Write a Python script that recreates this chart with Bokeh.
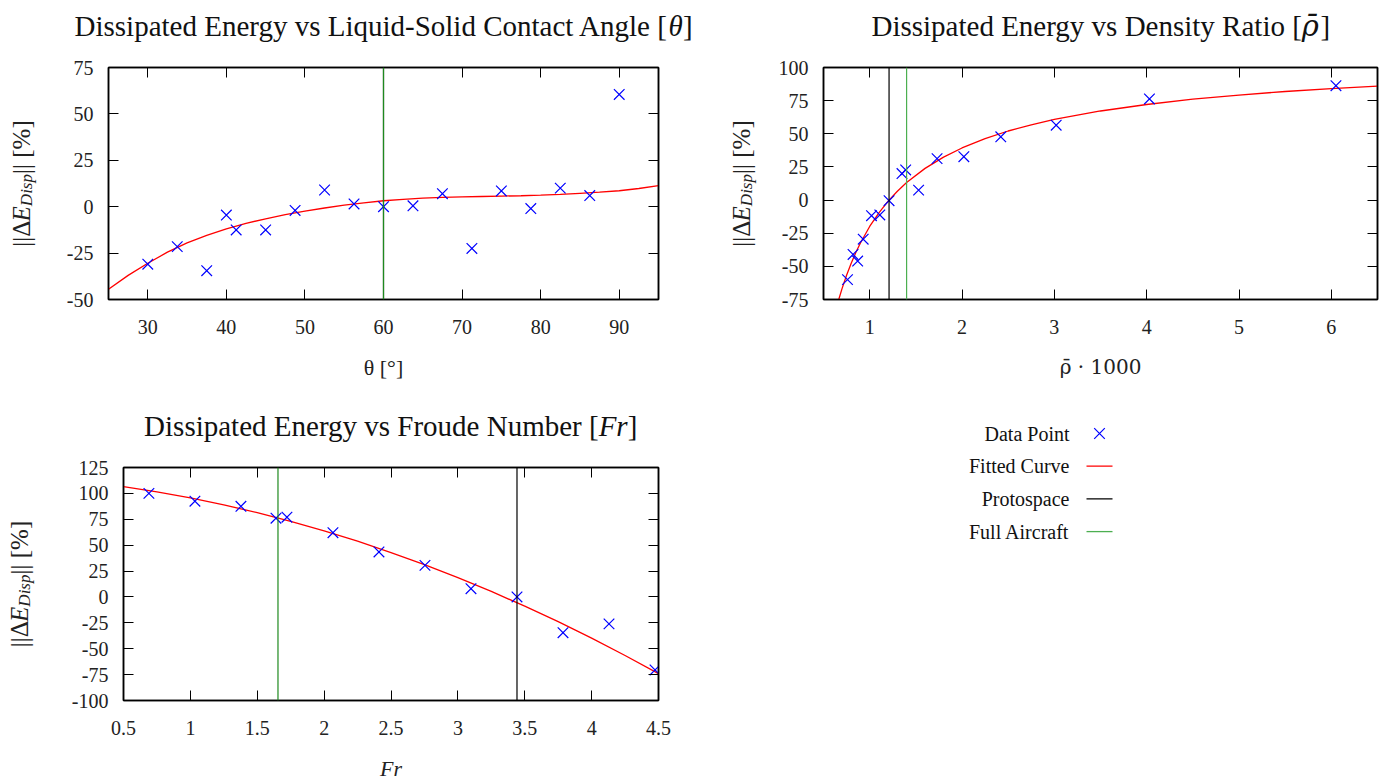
import numpy as np
from bokeh.plotting import figure
from bokeh.models import Range1d, FixedTicker, LinearAxis, Span
from bokeh.layouts import row, column
from bokeh.embed import file_html
from bokeh.resources import INLINE
from bokeh.core.properties import value

SERIF = "Liberation Serif"
GREEK = "DejaVu Serif"

# ---- Contact angle study ----
theta_deg = [30, 33.75, 37.5, 40, 41.25, 45, 48.75, 52.5, 56.25, 60, 63.75,
             67.5, 71.25, 75, 78.75, 82.5, 86.25, 90]
theta_dE = [-31, -21.5, -34.5, -4.5, -12.5, -12.5, -2, 9, 1.5, 0, 0.5,
            7, -22.5, 8.5, -1, 10, 6, 60.5]
theta_fit_x = [25, 27.5, 30, 32.5, 35, 37.5, 40, 42.5, 45, 47.5, 50, 52.5, 55,
               57.5, 60, 62.5, 65, 67.5, 70, 72.5, 75, 77.5, 80, 82.5, 85,
               87.5, 90, 92.5, 95]
theta_fit_y = [-44.5, -37, -30.5, -24.5, -19.5, -15.5, -12, -9, -6.5, -4.3,
               -2.4, -0.7, 0.8, 2.1, 3.2, 4, 4.6, 5.0, 5.3, 5.5, 5.7, 5.9, 6.2,
               6.6, 7.2, 7.8, 8.6, 9.8, 11.3]
theta_protospace = 60
theta_full_aircraft = 60
theta_xticks = [30, 40, 50, 60, 70, 80, 90]
theta_xtick_labels = ["30", "40", "50", "60", "70", "80", "90"]
theta_yticks = [-50, -25, 0, 25, 50, 75]
theta_ytick_labels = ["-50", "-25", "0", "25", "50", "75"]

# ---- Density ratio study ----
rho_k = [0.76, 0.82, 0.87, 0.93, 1.02, 1.11, 1.21, 1.35, 1.39, 1.53, 1.73,
         2.02, 2.42, 3.02, 4.03, 6.05]
rho_dE = [-60, -41, -46, -29.5, -11.75, -11.25, -0.5, 20, 22.75, 7.5, 31.25,
          32.75, 47.75, 56.5, 76.25, 86.25]
rho_fit_x = [0.665, 0.7, 0.75, 0.8, 0.85, 0.9, 1.0, 1.1, 1.2, 1.3, 1.4, 1.6,
             1.8, 2.0, 2.25, 2.5, 2.75, 3.0, 3.5, 4.0, 4.5, 5.0, 5.5, 6.0, 6.5]
rho_fit_y = [-75, -67, -56.7, -47.7, -39.6, -32.4, -19.9, -9.6, -0.8, 6.7,
             13.2, 23.9, 32.4, 39.3, 46.3, 52.1, 56.8, 60.8, 67.2, 72.1, 76.1,
             79.2, 81.9, 84.1, 86.0]
rho_protospace = 1.21
rho_full_aircraft = 1.40
rho_xticks = [1, 2, 3, 4, 5, 6]
rho_xtick_labels = ["1", "2", "3", "4", "5", "6"]
rho_yticks = [-75, -50, -25, 0, 25, 50, 75, 100]
rho_ytick_labels = ["-75", "-50", "-25", "0", "25", "50", "75", "100"]

# ---- Froude number study ----
fr = [0.69, 1.034, 1.378, 1.64, 1.722, 2.066, 2.41, 2.754, 3.098, 3.442,
      3.786, 4.13, 4.474]
fr_dE = [100, 92.5, 87.5, 76, 77, 62, 43.5, 30.5, 8, 0, -34.5, -26, -70.5]
fr_fit_x = [0.5, 0.75, 1.0, 1.25, 1.5, 1.75, 2.0, 2.25, 2.5, 2.75, 3.0, 3.25,
            3.5, 3.75, 4.0, 4.25, 4.5]
fr_fit_y = [106.5, 101.5, 95.6, 88.9, 81.4, 73.0, 63.8, 53.8, 42.9, 31.2,
            18.6, 5.3, -8.9, -23.9, -39.8, -56.5, -74.1]
fr_protospace = 3.442
fr_full_aircraft = 1.655
fr_xticks = [0.5, 1, 1.5, 2, 2.5, 3, 3.5, 4, 4.5]
fr_xtick_labels = ["0.5", "1", "1.5", "2", "2.5", "3", "3.5", "4", "4.5"]
fr_yticks = [-100, -75, -50, -25, 0, 25, 50, 75, 100, 125]
fr_ytick_labels = ["-100", "-75", "-50", "-25", "0", "25", "50", "75", "100", "125"]

legend_labels = ["Data Point", "Fitted Curve", "Protospace", "Full Aircraft"]

BLUE = "#0000ff"
RED = "#ff0000"
BLACK = "#000000"
GREEN = "#1e8a1e"
LIGHT_GREEN = "#4caf50"

TICK_FS = "20px"
TITLE_FS = 29


def no_frame_align(fig):
    if "frame_align" in fig.properties():
        fig.frame_align = False


def blank_figure(width, height):
    f = figure(frame_width=width, frame_height=height, x_range=Range1d(0, width),
               y_range=Range1d(0, height), min_border=0, toolbar_location=None,
               output_backend="svg", x_axis_location=None, y_axis_location=None,
               outline_line_color=None, title_location=None)
    f.grid.visible = False
    no_frame_align(f)
    return f


def title_strip(width, height, baseline_from_top, centre_x, pieces):
    # pieces: (text, font, style, approx width px); the first piece is set
    # right-aligned against the join, the rest left-aligned after it
    f = blank_figure(width, height)
    total = sum(w for _, _, _, w in pieces)
    join = centre_x - total / 2 + pieces[0][3]
    yb = height - baseline_from_top
    x = join
    for i, (text, font, style, w) in enumerate(pieces):
        f.text(x=[x if i else join], y=[yb], text=[text],
               text_align="left" if i else "right", text_baseline="alphabetic",
               text_font=value(font), text_font_size=f"{TITLE_FS}px",
               text_font_style=style, text_color="#111111")
        if i:
            x += w
    return f


def ylabel_strip(width, height, frame_top, frame_h, base_x):
    # vertical axis title ||ΔE_Disp|| [%], set piece by piece so that the
    # subscript can be lowered and shrunk
    f = blank_figure(width, height)
    fs, fss = 25, 17
    w_pre = 1.012 * fs
    w_e = 0.611 * fs
    w_sub = 1.889 * fss
    w_post = 2.149 * fs
    total = w_pre + w_e + w_sub + w_post
    centre = height - (frame_top + frame_h / 2)
    y0 = centre - total / 2
    pieces = [("||Δ", fs, "normal", 0, y0),
              ("E", fs, "italic", 0, y0 + w_pre),
              ("Disp", fss, "italic", 5, y0 + w_pre + w_e),
              ("|| [%]", fs, "normal", 0, y0 + w_pre + w_e + w_sub)]
    for text, size, style, dx, y in pieces:
        f.text(x=[base_x + dx], y=[y], text=[text], angle=np.pi / 2,
               text_align="left", text_baseline="alphabetic",
               text_font=value(SERIF), text_font_size=f"{size}px",
               text_font_style=style, text_color="#222222")
    return f


def style_axis(ax, ticks, labels, show_labels, standoff):
    ax.ticker = FixedTicker(ticks=ticks)
    ax.major_tick_in = 10
    ax.major_tick_out = 0
    ax.minor_tick_line_color = None
    ax.major_tick_line_color = BLACK
    ax.major_tick_line_width = 1
    ax.axis_line_color = BLACK
    ax.axis_line_width = 1.5
    ax.major_label_text_font = SERIF
    ax.major_label_text_color = "#222222"
    if show_labels:
        ax.major_label_overrides = {t: l for t, l in zip(ticks, labels)}
        ax.major_label_text_font_size = TICK_FS
        ax.major_label_standoff = standoff
    else:
        ax.major_label_overrides = {t: "" for t in ticks}
        ax.major_label_text_font_size = "0px"
        ax.major_label_standoff = 0


def make_panel(x, y, fit_x, fit_y, proto, full, green,
               xr, yr, xticks, xlabels, yticks, ylabels, xlabel, xlabel_font,
               xlabel_size, xlabel_style, fw, fh, left, right, top, bottom):
    p = figure(frame_width=fw, frame_height=fh,
               x_range=Range1d(*xr), y_range=Range1d(*yr),
               output_backend="svg", toolbar_location=None, title_location=None,
               min_border_left=left, min_border_right=right,
               min_border_top=top, min_border_bottom=bottom,
               x_axis_location=None, y_axis_location=None,
               background_fill_color="white", border_fill_color="white")
    no_frame_align(p)
    p.grid.visible = False
    p.outline_line_color = BLACK
    p.outline_line_width = 1.5

    xb = LinearAxis()
    style_axis(xb, xticks, xlabels, True, 20)
    xb.axis_label = xlabel
    xb.axis_label_text_font = xlabel_font
    xb.axis_label_text_font_size = xlabel_size
    xb.axis_label_text_font_style = xlabel_style
    xb.axis_label_text_color = "#222222"
    xb.axis_label_standoff = 18
    p.add_layout(xb, "below")
    xt = LinearAxis()
    style_axis(xt, xticks, xlabels, False, 0)
    p.add_layout(xt, "above")

    yl = LinearAxis()
    style_axis(yl, yticks, ylabels, True, 15)
    p.add_layout(yl, "left")
    yr_ax = LinearAxis()
    style_axis(yr_ax, yticks, ylabels, False, 0)
    p.add_layout(yr_ax, "right")

    p.add_layout(Span(location=proto, dimension="height", line_color=BLACK, line_width=1.2))
    p.add_layout(Span(location=full, dimension="height", line_color=green, line_width=1.2))
    p.line(fit_x, fit_y, line_color=RED, line_width=1.3)
    p.scatter(x, y, marker="x", size=15, line_color=BLUE, line_width=1.2)
    return p


# contact angle panel
t1 = title_strip(700, 50, 25, 383,
                 [("Dissipated Energy vs Liquid-Solid Contact Angle [", SERIF, "normal", 594),
                  ("θ", SERIF, "italic", 14.5),
                  ("]", SERIF, "normal", 9.7)])
p1 = make_panel(theta_deg, theta_dE, theta_fit_x, theta_fit_y,
                theta_protospace, theta_full_aircraft, GREEN,
                (25, 95), (-50, 75), theta_xticks, theta_xtick_labels,
                theta_yticks, theta_ytick_labels, "θ [°]", SERIF, "22px", "normal",
                550, 232, 58, 42, 17, 91)
y1 = ylabel_strip(50, 340, 17, 232, 21)

# density ratio panel
t2 = title_strip(685, 50, 25, 400,
                 [("Dissipated Energy vs Density Ratio [", SERIF, "normal", 431),
                  ("ρ̄", GREEK, "italic", 18.6),
                  ("]", SERIF, "normal", 9.7)])
p2 = make_panel(rho_k, rho_dE, rho_fit_x, rho_fit_y,
                rho_protospace, rho_full_aircraft, LIGHT_GREEN,
                (0.5, 6.5), (-75, 100), rho_xticks, rho_xtick_labels,
                rho_yticks, rho_ytick_labels, "ρ̄ · 1000", GREEK, "20px", "normal",
                554, 232, 53, 8, 17, 91)
y2 = ylabel_strip(70, 340, 17, 232, 41)

# Froude number panel
t3 = title_strip(700, 60, 35, 390,
                 [("Dissipated Energy vs Froude Number [", SERIF, "normal", 455),
                  ("Fr", SERIF, "italic", 29),
                  ("]", SERIF, "normal", 9.7)])
p3 = make_panel(fr, fr_dE, fr_fit_x, fr_fit_y,
                fr_protospace, fr_full_aircraft, GREEN,
                (0.5, 4.5), (-100, 125), fr_xticks, fr_xtick_labels,
                fr_yticks, fr_ytick_labels, "Fr", SERIF, "22px", "italic",
                535, 233, 73, 42, 17, 78)
y3 = ylabel_strip(50, 328, 17, 233, 19)

# key panel: label text on the left, sample mark on the right
leg = figure(frame_width=685, frame_height=388, x_range=Range1d(0, 685),
             y_range=Range1d(388, 0), min_border=0, toolbar_location=None,
             output_backend="svg", x_axis_location=None, y_axis_location=None,
             outline_line_color=None, title_location=None)
no_frame_align(leg)
leg.grid.visible = False
row_y = [43 + 32.7 * i for i in range(len(legend_labels))]
leg.text(x=[369] * len(legend_labels), y=row_y, text=legend_labels,
         text_align="right", text_baseline="middle", text_font=value(SERIF),
         text_font_size="20px", text_color="#111111")
leg.scatter(x=[399], y=[row_y[0]], marker="x", size=15, line_color=BLUE, line_width=1.2)
leg.segment(x0=[386] * 3, y0=row_y[1:], x1=[412] * 3, y1=row_y[1:],
            line_color=[RED, BLACK, LIGHT_GREEN], line_width=1.3)

layout = row(column(t1, row(y1, p1), t3, row(y3, p3)),
             column(t2, row(y2, p2), leg))

open("out.html", "w").write(file_html(layout, INLINE))
